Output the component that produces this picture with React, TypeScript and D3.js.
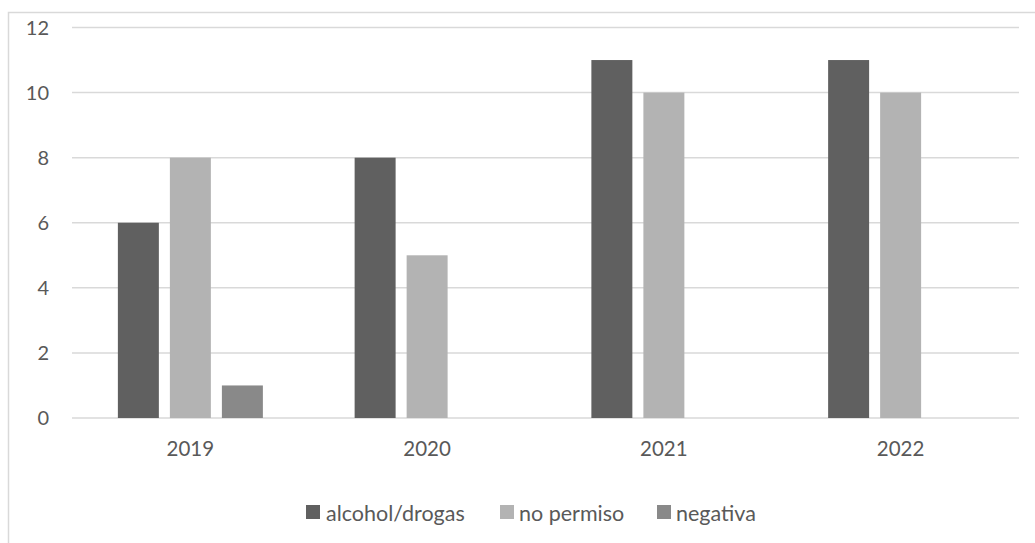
import React from "react";
import * as d3 from "d3";

const years = ["2019", "2020", "2021", "2022"];
const seriesNames = ["alcohol/drogas", "no permiso", "negativa"];
const alcoholDrogas = [6, 8, 11, 11];
const noPermiso = [8, 5, 10, 10];
const negativa = [1, 0, 0, 0];
const yTicks = [0, 2, 4, 6, 8, 10, 12];
const colors = ["#606060", "#b3b3b3", "#898989"];

const W = 1035;
const H = 543;
const FONT = "Lato, 'Open Sans', 'Liberation Sans', sans-serif";

export default function App() {
  const seriesValues = [alcoholDrogas, noPermiso, negativa];
  const x = d3.scaleBand<string>().domain(years).range([72, 1019]).padding(0);
  const y = d3.scaleLinear().domain([0, 12]).range([418, 27.5]);
  const clusterW = 145;
  const inner = d3
    .scaleBand<string>()
    .domain(seriesNames)
    .range([0, clusterW])
    .paddingInner(0.212)
    .paddingOuter(0);

  const legendItems = [
    { name: seriesNames[0], sx: 306, tx: 326 },
    { name: seriesNames[1], sx: 500, tx: 519 },
    { name: seriesNames[2], sx: 657, tx: 676 },
  ];

  return (
    <svg
      width={W}
      height={H}
      style={{ position: "absolute", left: 0, top: 0, background: "#fff" }}
      fontFamily={FONT}
    >
      {/* chart frame */}
      <rect x={8.5} y={12.5} width={W} height={H} fill="none" stroke="#d9d9d9" strokeWidth={1.5} />
      {/* gridlines and y labels */}
      {yTicks.map((t) => (
        <g key={t}>
          <line x1={72} x2={1019} y1={y(t)} y2={y(t)} stroke="#d9d9d9" strokeWidth={1.5} />
          <text x={49} y={y(t)} dy="0.36em" textAnchor="end" fontSize={20} fill="#595959">
            {t}
          </text>
        </g>
      ))}
      {/* bars */}
      {years.map((yr, i) => {
        const cx = (x(yr) as number) + x.bandwidth() / 2;
        const x0 = cx - clusterW / 2;
        return (
          <g key={yr}>
            {seriesNames.map((s, j) => {
              const v = seriesValues[j][i];
              if (v <= 0) return null;
              return (
                <rect
                  key={s}
                  x={x0 + (inner(s) as number)}
                  y={y(v)}
                  width={inner.bandwidth()}
                  height={y(0) - y(v)}
                  fill={colors[j]}
                />
              );
            })}
            <text x={cx} y={456} textAnchor="middle" fontSize={20.5} fill="#595959">
              {yr}
            </text>
          </g>
        );
      })}
      {/* legend */}
      {legendItems.map((it, j) => (
        <g key={it.name}>
          <rect x={it.sx} y={505} width={14} height={14} fill={colors[j]} />
          <text x={it.tx} y={521} fontSize={21.5} fill="#595959">
            {it.name}
          </text>
        </g>
      ))}
    </svg>
  );
}
